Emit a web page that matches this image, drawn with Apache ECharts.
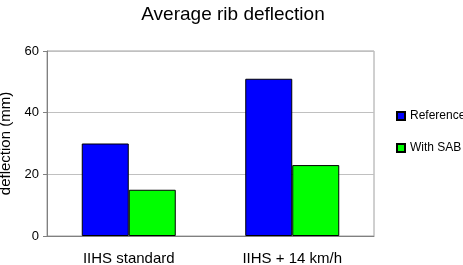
<!DOCTYPE html>
<html lang="en">
<head>
    <meta charset="UTF-8" />
    <title>Average rib deflection</title>
    <script src="https://cdn.jsdelivr.net/npm/echarts@6/dist/echarts.min.js"></script>
    <style>
        body { margin: 0; background: #fff; }
    </style>
</head>
<body>
    <div id="chart" style="width: 463px; height: 265px"></div>
    <script>
        var categories = ["IIHS standard", "IIHS + 14 km/h"];
        var referenceValues = [30, 51];
        var sabValues = [15, 23];

        var font = "Liberation Sans, Arial, sans-serif";
        var chart = echarts.init(document.getElementById("chart"));

        var option = {
            animation: false,
            title: {
                text: "Average rib deflection",
                left: 228,
                textAlign: "center",
                top: 0,
                textStyle: { fontFamily: font, fontSize: 19, fontWeight: "normal", color: "#000" }
            },
            legend: {
                orient: "vertical",
                left: 391,
                top: 105,
                itemGap: 20,
                itemWidth: 8,
                itemHeight: 8,
                icon: "rect",
                textStyle: { fontFamily: font, fontSize: 12, color: "#000" },
                data: ["Reference", "With SAB"]
            },
            grid: {
                left: 47,
                right: 89,
                top: 51,
                bottom: 29,
                outerBoundsMode: "none",
                containLabel: false,
                show: true,
                borderColor: "#a0a0a0",
                borderWidth: 1
            },
            xAxis: {
                type: "category",
                data: categories,
                axisLine: { lineStyle: { color: "#808080" } },
                axisTick: { length: 5, lineStyle: { color: "#808080" } },
                axisLabel: { fontFamily: font, fontSize: 15, color: "#000", margin: 15 }
            },
            yAxis: {
                type: "value",
                min: 0,
                max: 60,
                interval: 20,
                name: "deflection (mm)",
                nameLocation: "middle",
                nameGap: 34,
                nameTextStyle: { fontFamily: font, fontSize: 15, color: "#000" },
                axisLine: { show: true, lineStyle: { color: "#808080" } },
                axisTick: { show: true, length: 4, lineStyle: { color: "#808080" } },
                axisLabel: { fontFamily: font, fontSize: 13, color: "#000", margin: 8 },
                splitLine: { lineStyle: { color: "#c0c0c0" } }
            },
            series: [
                {
                    name: "Reference",
                    type: "bar",
                    data: referenceValues,
                    barWidth: 47,
                    barGap: "0%",
                    itemStyle: { color: "#0000ff", borderColor: "#000", borderWidth: 1 }
                },
                {
                    name: "With SAB",
                    type: "bar",
                    data: sabValues,
                    barWidth: 47,
                    itemStyle: { color: "#00ff00", borderColor: "#000", borderWidth: 1 }
                }
            ]
        };
        chart.setOption(option);
    </script>
</body>
</html>
